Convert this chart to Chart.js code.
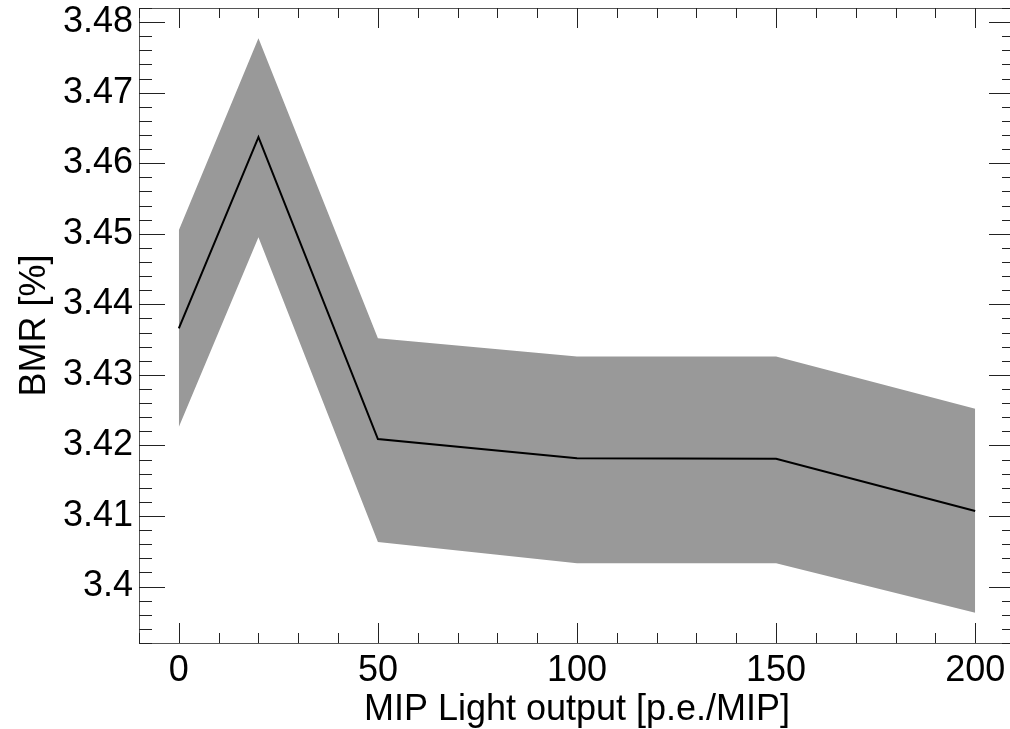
<!DOCTYPE html>
<html>
<head>
<meta charset="utf-8">
<script src="https://cdn.jsdelivr.net/npm/chart.js@4.4.1/dist/chart.umd.min.js"></script>
<style>
  html, body { margin: 0; padding: 0; background: #fff; overflow: hidden; }
  #wrap { position: absolute; left: 0; top: 0; width: 1020px; height: 729px; }
</style>
</head>
<body>
<div id="wrap"><canvas id="bmrChart"></canvas></div>
<script>
// Daten
const lightOutput = [0, 20, 50, 100, 150, 200];
const bmr      = [3.4366, 3.4637, 3.4209, 3.4182, 3.4181, 3.4107];
const bmrUpper = [3.4505, 3.4777, 3.4352, 3.4326, 3.4326, 3.4252];
const bmrLower = [3.4226, 3.4495, 3.4063, 3.4033, 3.4033, 3.3963];

const xTicks = [0, 50, 100, 150, 200];
const yTicks = [3.40, 3.41, 3.42, 3.43, 3.44, 3.45, 3.46, 3.47, 3.48];

const toPoints = ys => lightOutput.map((x, i) => ({ x, y: ys[i] }));

const FONT = { family: "'Liberation Sans', Arial, sans-serif", size: 36 };

// Rahmen + Ticks nach innen (wie IDL-Plot)
const frameTicks = {
  id: 'frameTicks',
  afterDraw(chart) {
    const { ctx, chartArea: a, scales } = chart;
    const xs = scales.x, ys = scales.y;
    ctx.save();
    ctx.strokeStyle = '#555';
    ctx.lineWidth = 1;
    ctx.strokeRect(Math.round(a.left) + 0.5, Math.round(a.top) + 0.5,
      Math.round(a.right - a.left), Math.round(a.bottom - a.top));

    ctx.strokeStyle = '#222';
    ctx.beginPath();
    // x-Ticks alle 10, gross alle 50
    for (let v = -10; v <= 210; v += 10) {
      const px = Math.round(xs.getPixelForValue(v)) + 0.5;
      const len = v % 50 === 0 ? 20 : 10;
      ctx.moveTo(px, a.bottom); ctx.lineTo(px, a.bottom - len);
      ctx.moveTo(px, a.top); ctx.lineTo(px, a.top + len);
    }
    // y-Ticks alle 0.002, gross alle 0.01
    for (let k = 0; k <= 45; k++) {
      const v = 3.392 + k * 0.002;
      const py = Math.round(ys.getPixelForValue(v)) + 0.5;
      const major = (k - 4) % 5 === 0;
      const len = major ? 26 : 13;
      ctx.moveTo(a.left, py); ctx.lineTo(a.left + len, py);
      ctx.moveTo(a.right, py); ctx.lineTo(a.right - len, py);
    }
    ctx.stroke();
    ctx.restore();
  }
};

const chart = new Chart(document.getElementById('bmrChart'), {
  type: 'line',
  data: {
    datasets: [
      {
        label: 'BMR',
        data: toPoints(bmr),
        borderColor: '#000',
        borderWidth: 2,
        pointRadius: 0,
        tension: 0,
        fill: false
      },
      {
        label: 'upper',
        data: toPoints(bmrUpper),
        borderWidth: 0,
        borderColor: 'rgba(0,0,0,0)',
        backgroundColor: '#999999',
        pointRadius: 0,
        tension: 0,
        fill: '+1'
      },
      {
        label: 'lower',
        data: toPoints(bmrLower),
        borderWidth: 0,
        borderColor: 'rgba(0,0,0,0)',
        pointRadius: 0,
        tension: 0,
        fill: false
      }
    ]
  },
  options: {
    responsive: true,
    maintainAspectRatio: false,
    animation: false,
    layout: { padding: { top: 8, right: 5, left: 0, bottom: 0 } },
    plugins: { legend: { display: false }, tooltip: { enabled: false } },
    scales: {
      x: {
        type: 'linear',
        min: -10,
        max: 210,
        grid: { display: false, drawTicks: false },
        border: { display: false },
        afterBuildTicks: s => { s.ticks = xTicks.map(v => ({ value: v })); },
        afterFit: s => { s.height = 86; s.paddingLeft = 0; s.paddingRight = 0; },
        ticks: { font: FONT, color: '#000', padding: 6, maxRotation: 0, autoSkip: false },
        title: {
          display: true,
          text: 'MIP Light output [p.e./MIP]',
          font: { ...FONT, lineHeight: 1 },
          color: '#000',
          padding: { top: 0, bottom: 1 }
        }
      },
      y: {
        min: 3.392,
        max: 3.482,
        grid: { display: false, drawTicks: false },
        border: { display: false },
        afterBuildTicks: s => { s.ticks = yTicks.map(v => ({ value: v })); },
        afterFit: s => { s.width = 139; s.paddingTop = 0; s.paddingBottom = 0; },
        ticks: {
          font: FONT,
          color: '#000',
          padding: 6,
          autoSkip: false,
          callback: v => String(Number(v.toFixed(2)))
        },
        title: {
          display: true,
          text: 'BMR [%]',
          font: { ...FONT, lineHeight: 1 },
          color: '#000',
          padding: { top: 17, bottom: 0 }
        }
      }
    }
  },
  plugins: [frameTicks]
});
</script>
</body>
</html>
